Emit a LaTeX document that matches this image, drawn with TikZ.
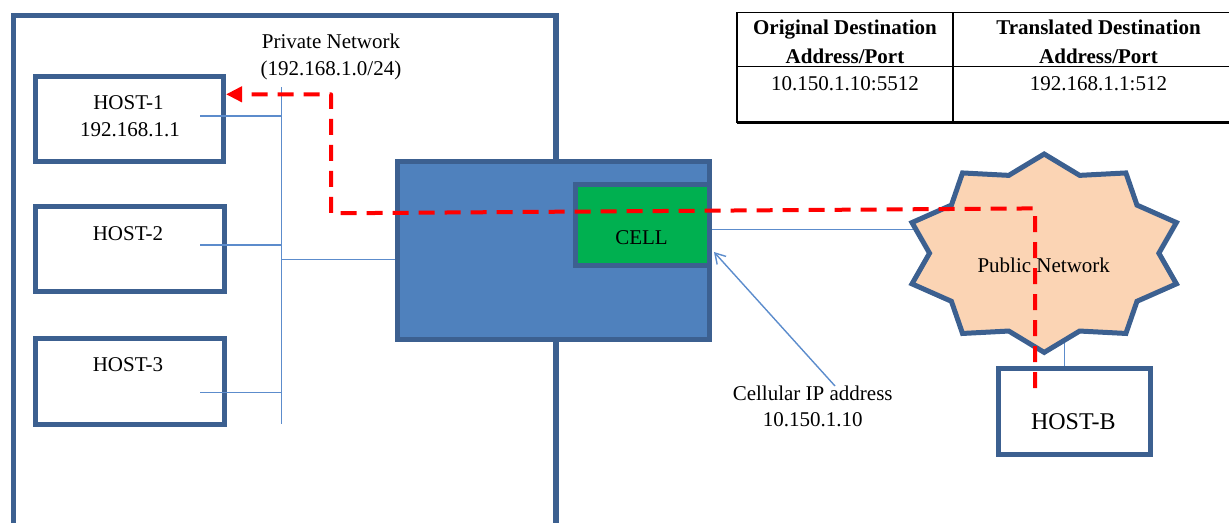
\documentclass[tikz,border=0pt]{standalone}
\usepackage{fontspec}
\setmainfont{Liberation Serif}
\usetikzlibrary{arrows.meta}
\definecolor{framec}{RGB}{60,96,144}
\definecolor{routerc}{RGB}{79,129,189}
\definecolor{cellc}{RGB}{0,176,80}
\definecolor{cloudc}{RGB}{251,212,180}
\definecolor{wirec}{RGB}{92,140,204}
\begin{document}
\begin{tikzpicture}[x=1pt,y=-1pt,
  bluebox/.style={draw=framec, line width=5pt, rectangle, inner sep=0pt},
  hostbox/.style={bluebox, fill=white},
  wire/.style={draw=wirec, line width=1.4pt},
  txt/.style={font=\fontsize{21}{25}\selectfont, inner sep=0pt, anchor=base},
  btxt/.style={font=\bfseries\fontsize{21}{25}\selectfont, inner sep=0pt, anchor=base},
  tline/.style={draw=black, line width=2pt},
  redpath/.style={draw=red, line width=4pt, dash pattern=on 16pt off 10pt, line join=round}]
\useasboundingbox (0,0) rectangle (1229,523);

% outer private network frame
\draw[draw=framec, line width=5.5pt] (13.5,523) -- (13.5,15.5) -- (556,15.5) -- (556,523);

% hosts
\node[hostbox, minimum width=188pt, minimum height=85pt] (h1) at (129.5,119) {};
\node[hostbox, minimum width=189pt, minimum height=85pt] (h2) at (130,249) {};
\node[hostbox, minimum width=189pt, minimum height=86pt] (h3) at (130,381.5) {};
\node[txt] (h1a) at (128.5,109) {HOST-1};
\node[txt] (h1b) at (130,136) {192.168.1.1};
\node[txt] (h2a) at (128,240) {HOST-2};
\node[txt] (h3a) at (128,371.5) {HOST-3};

\node[txt] (pn1) at (331,48) {Private Network};
\node[txt] (pn2) at (331,75.5) {(192.168.1.0/24)};

% bus
\coordinate (bustop) at (281.7,87.3);
\coordinate (busbot) at (281.7,424.3);
\coordinate (s1) at (200,116);
\coordinate (s2) at (200,245);
\coordinate (s3) at (200,392.7);
\coordinate (rl) at (0,259.3);
\draw[wire] (bustop) -- (busbot);
\draw[wire] (s1) -- (s1 -| bustop);
\draw[wire] (s2) -- (s2 -| bustop);
\draw[wire] (s3) -- (s3 -| bustop);
\draw[wire] (bustop |- rl) -- (400,259.3);

% router and cell
\node[bluebox, fill=routerc, minimum width=312pt, minimum height=178pt] (router) at (553.5,250.5) {};
\node[bluebox, fill=cellc, minimum width=134pt, minimum height=81pt] (cellbox) at (642.5,225) {};
\node[txt] (celltxt) at (641.5,244) {CELL};

% links to cloud and host-b
\coordinate (cloud) at (1044.2,253.2);
\coordinate (ycell) at (0,229.5);
\coordinate (xb) at (1064.4,320);
\node[hostbox, minimum width=152pt, minimum height=86pt] (hostb) at (1074.5,411.5) {};
\draw[wire] (cellbox.east |- ycell) -- (cloud |- ycell);
\draw[wire] (hostb.north -| xb) -- (xb);

% public network cloud
\draw[draw=framec, line width=5pt, fill=cloudc, line join=miter]
  plot[variable=\k, samples at={0,...,19}]
  ({1044.2+139*(1-0.175*mod(\k,2))*cos(90+18*\k)},
   {253.2-99.2*(1-0.175*mod(\k,2))*sin(90+18*\k)}) -- cycle;
\node[txt] (pubtxt) at (1043.7,272) {Public Network};
\node[txt, font=\fontsize{24}{28}\selectfont] (hbtxt) at (1073.3,429.3) {HOST-B};

% table
\coordinate (tl) at (736.5,12.3);
\coordinate (tr) at (1229,12.3);
\coordinate (bl) at (736.5,122.7);
\coordinate (br) at (1229,122.7);
\coordinate (mid) at (953,12.3);
\coordinate (row) at (736.5,66.5);
\draw[draw=black, line width=1.5pt] (tl) -- (tr);
\draw[draw=black, line width=2.5pt] (bl) -- (br);
\draw[tline] (tl) -- (bl);
\draw[tline] (mid) -- (mid |- bl);
\draw[draw=black, line width=1.5pt] (row) -- (row -| tr);
\node[btxt] (t11) at (845,34.8) {Original Destination};
\node[btxt] (t12) at (845,63.4) {Address/Port};
\node[btxt] (t21) at (1098.5,34.8) {Translated Destination};
\node[btxt] (t22) at (1098.5,63.4) {Address/Port};
\node[txt] (t13) at (845,90.4) {10.150.1.10:5512};
\node[txt] (t23) at (1098.5,90.4) {192.168.1.1:512};

% cellular IP label and arrow
\node[txt] (cl1) at (812.7,400) {Cellular IP address};
\node[txt] (cl2) at (812.8,426.7) {10.150.1.10};
\coordinate (cstart) at (835,386);
\coordinate (carr) at (0,252);
\draw[wire, -{Straight Barb[length=10pt,width=12pt]}] (cstart) -- ([xshift=2pt]router.east |- carr);

% red translated path
\coordinate (r1) at (1035,388);
\coordinate (r2) at (1035,208.4);
\coordinate (r3) at (331,213.3);
\coordinate (r4) at (331,94.3);
\draw[redpath, -{Triangle[length=16pt,width=15pt]}] (r1) -- (r2) -- (r3) -- (r4) -- (h1.east |- r4);
\end{tikzpicture}
\end{document}
